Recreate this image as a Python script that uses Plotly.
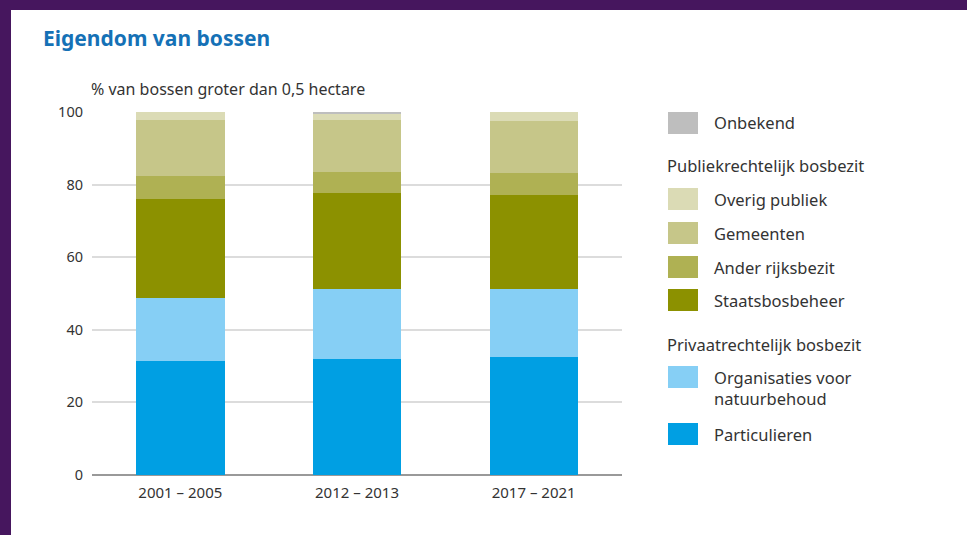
import plotly.graph_objects as go

# ---- data ----
periods = ["2001 – 2005", "2012 – 2013", "2017 – 2021"]
particulieren = [31.5, 32.0, 32.4]
organisaties = [17.2, 19.2, 18.8]
staatsbosbeheer = [27.3, 26.4, 25.9]
ander_rijksbezit = [6.5, 6.0, 6.0]
gemeenten = [15.3, 14.2, 14.4]
overig_publiek = [2.2, 1.8, 2.5]
onbekend = [0.0, 0.4, 0.0]

series_names = ["Particulieren", "Organisaties voor natuurbehoud", "Staatsbosbeheer",
                "Ander rijksbezit", "Gemeenten", "Overig publiek", "Onbekend"]
series_values = [particulieren, organisaties, staatsbosbeheer, ander_rijksbezit,
                 gemeenten, overig_publiek, onbekend]
series_colors = ["#009FE3", "#86CFF5", "#8C9100", "#AFB153", "#C6C689", "#DBDBB5", "#BEBEBE"]

y_ticks = [0, 20, 40, 60, 80, 100]

W, H = 967, 535
L, R, T, B = 92, 345, 112, 60
PW, PH = W - L - R, H - T - B

def px(x):
    return (x - L) / PW

def py(y):
    return (H - B - y) / PH

FONT = "Noto Sans"
TXT = "#333333"

fig = go.Figure()
for name, vals, col in zip(series_names, series_values, series_colors):
    fig.add_trace(go.Bar(x=periods, y=vals, name=name, marker_color=col,
                         marker_line_width=0, showlegend=False))

shapes = []
annotations = []

# purple frame
shapes.append(dict(type="rect", xref="paper", yref="paper", x0=px(-5), x1=px(W + 5),
                   y0=py(10), y1=py(-5), fillcolor="#46165E", line_width=0, layer="above"))
shapes.append(dict(type="rect", xref="paper", yref="paper", x0=px(-5), x1=px(11),
                   y0=py(H + 5), y1=py(-5), fillcolor="#46165E", line_width=0, layer="above"))

# title and axis caption
annotations.append(dict(text="<b>Eigendom van bossen</b>", xref="paper", yref="paper",
                        x=px(41), y=py(38), xanchor="left", yanchor="middle", showarrow=False,
                        font=dict(family=FONT, size=21, color="#1571B6")))
annotations.append(dict(text="% van bossen groter dan 0,5 hectare", xref="paper", yref="paper",
                        x=px(89), y=py(89), xanchor="left", yanchor="middle", showarrow=False,
                        font=dict(family=FONT, size=16, color=TXT)))

# legend (manual)
legend_items = [
    ("item", 6, 123),
    ("title", "Publiekrechtelijk bosbezit", 166),
    ("item", 5, 199),
    ("item", 4, 233),
    ("item", 3, 267),
    ("item", 2, 300),
    ("title", "Privaatrechtelijk bosbezit", 344),
    ("item", 1, 377),
    ("item", 0, 434),
]
LFS = 16.5
for kind, v, yc in legend_items:
    if kind == "title":
        annotations.append(dict(text=v, xref="paper", yref="paper", x=px(665), y=py(yc),
                                xanchor="left", yanchor="middle", showarrow=False,
                                font=dict(family=FONT, size=LFS, color=TXT)))
    else:
        shapes.append(dict(type="rect", xref="paper", yref="paper",
                           x0=px(668), x1=px(698), y0=py(yc + 11), y1=py(yc - 11),
                           fillcolor=series_colors[v], line_width=0))
        label = series_names[v]
        if v == 1:
            label = "Organisaties voor<br>natuurbehoud"
            annotations.append(dict(text=label, xref="paper", yref="paper", x=px(712), y=py(yc - 13),
                                    xanchor="left", yanchor="top", showarrow=False, align="left",
                                    font=dict(family=FONT, size=LFS, color=TXT)))
        else:
            annotations.append(dict(text=label, xref="paper", yref="paper", x=px(712), y=py(yc),
                                    xanchor="left", yanchor="middle", showarrow=False,
                                    font=dict(family=FONT, size=LFS, color=TXT)))

fig.update_layout(
    width=W, height=H,
    margin=dict(l=L, r=R, t=T, b=B, pad=0),
    barmode="stack", bargap=0.5,
    paper_bgcolor="white", plot_bgcolor="white",
    font=dict(family=FONT, size=14, color=TXT),
    shapes=shapes, annotations=annotations,
    xaxis=dict(showgrid=False, ticks="", showline=False, tickfont=dict(size=15, color=TXT),
               ticklabelstandoff=7, fixedrange=True),
    yaxis=dict(range=[0, 100], tickvals=y_ticks, showgrid=True, gridcolor="#DCDCDC", gridwidth=1.5,
               zeroline=True, zerolinecolor="#999999", zerolinewidth=1.5, ticks="", ticklabelstandoff=8,
               tickfont=dict(size=14.5, color=TXT), showline=False),
)

fig.write_html("out.html")
